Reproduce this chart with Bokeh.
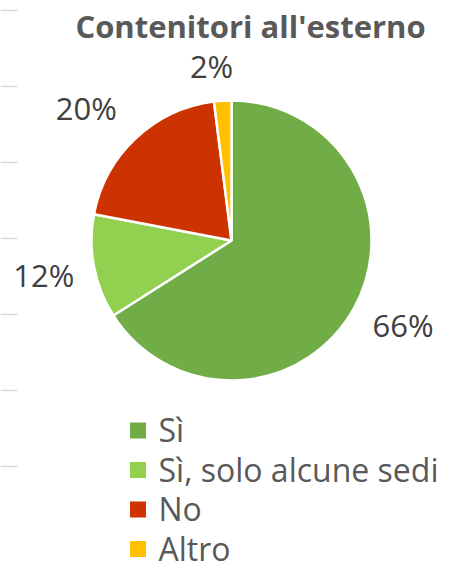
import math
from bokeh.plotting import figure
from bokeh.models import Range1d, ColumnDataSource
from bokeh.embed import file_html
from bokeh.resources import INLINE
from bokeh.core.properties import value

# ---- data ----
title_text = "Contenitori all'esterno"
categories = ["Sì", "Sì, solo alcune sedi", "No", "Altro"]
percentages = [66, 12, 20, 2]
colors = ["#70AD47", "#92D050", "#CC3300", "#FFC000"]
stub_rows = [10, 86, 162, 238, 314, 390, 466]  # stray gridline stubs at left edge (page y)

# ---- layout ----
W, H = 461, 570
OFF = 0
TXT = 12  # empirical correction for text baseline placement


def Y(page_y):
    return H - (page_y - OFF)


def X(page_x):
    return page_x - OFF


p = figure(width=W, height=H, x_range=Range1d(0, W), y_range=Range1d(0, H),
           output_backend="svg", toolbar_location=None, min_border=0,
           x_axis_location=None, y_axis_location=None)
p.grid.visible = False
p.outline_line_color = None
p.background_fill_color = "white"
p.border_fill_color = "white"

# stray gridline stubs
p.segment(x0=[0] * len(stub_rows), x1=[X(17)] * len(stub_rows),
          y0=[Y(v) for v in stub_rows], y1=[Y(v) for v in stub_rows],
          line_color="#d9d9d9", line_width=1.5)

# pie
cx, cy, R = X(231), Y(240), 140
total = sum(percentages)
starts, ends, mids = [], [], []
cum = 0
for v in percentages:
    a0 = cum / total
    cum += v
    a1 = cum / total
    starts.append(math.pi / 2 - 2 * math.pi * a0)
    ends.append(math.pi / 2 - 2 * math.pi * a1)
    mids.append(2 * math.pi * (a0 + a1) / 2)  # clockwise from top

src = ColumnDataSource(dict(start=starts, end=ends, color=colors, cat=categories))
p.wedge(x=cx, y=cy, radius=R, start_angle="start", end_angle="end",
        direction="clock", fill_color="color", line_color="white",
        line_width=2.5, source=src)

# data labels (outside end, best-fit-ish): radial distance + small screen nudge
label_dist = [190, 191, 196, 174]
label_nudge_x = [5, 0, -11, -9]
label_nudge_y = [-6, 0, 11, 0]   # screen-down positive
lx, ly, lt = [], [], []
for v, m, d, nx, ny in zip(percentages, mids, label_dist, label_nudge_x, label_nudge_y):
    lx.append(cx + d * math.sin(m) + nx)
    ly.append(cy + d * math.cos(m) - ny - 11 + TXT)
    lt.append(f"{v}%")
p.text(x=lx, y=ly, text=lt, text_font=value("Open Sans"), text_font_size="31px",
       text_color="#404040", text_align="center", text_baseline="alphabetic")

# title
p.text(x=[X(250)], y=[Y(37) + TXT], text=[title_text], text_font=value("Open Sans"),
       text_font_size="31px", text_font_style="bold", text_color="#595959",
       text_align="center", text_baseline="alphabetic")

# legend (manual)
row_h = 39.5
sq_x = X(137.5)
first_row = Y(430)
rows_y = [first_row - i * row_h for i in range(len(categories))]
p.rect(x=[sq_x] * len(categories), y=rows_y, width=16, height=16,
       width_units="screen", height_units="screen", fill_color=colors, line_color=None)
p.text(x=[X(158)] * len(categories), y=[yy - 11 + TXT for yy in rows_y], text=categories,
       text_font=value("Open Sans"), text_font_size="32px", text_color="#595959",
       text_align="left", text_baseline="alphabetic")

open("out.html", "w").write(file_html(p, INLINE))
